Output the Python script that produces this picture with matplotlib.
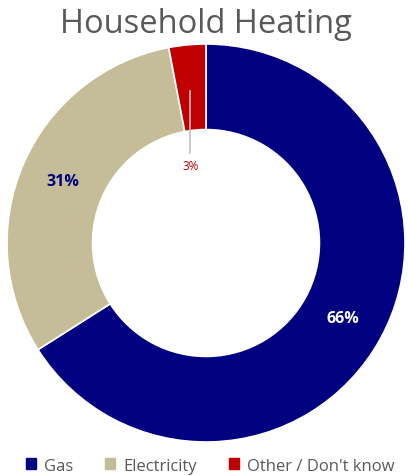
import numpy as np
import matplotlib.pyplot as plt

plt.rcParams['font.family'] = ['Open Sans', 'DejaVu Sans']

categories = ['Gas', 'Electricity', "Other / Don't know"]
shares = [66, 31, 3]
colors = ['#000080', '#C4BD97', '#C00000']

fig = plt.figure(figsize=(4.08, 4.77), dpi=100)
ax = fig.add_axes([7 / 408, 34 / 477, 398 / 408, 398 / 477])

wedges, _ = ax.pie(shares, colors=colors, startangle=90, counterclock=False,
                   radius=1.0, wedgeprops=dict(width=0.43, edgecolor='white', linewidth=1.2))
ax.set_xlim(-1, 1)
ax.set_ylim(-1, 1)

mid_r = 1 - 0.43 / 2
label_style = [
    dict(color='white', fontweight='bold', fontsize=11.5),
    dict(color='#000080', fontweight='bold', fontsize=11.5),
    dict(color='#C00000', fontsize=8.5),
]
for w, val, st in zip(wedges, shares, label_style):
    ang = np.deg2rad((w.theta1 + w.theta2) / 2)
    x, y = mid_r * np.cos(ang), mid_r * np.sin(ang)
    if val < 5:
        # small slice: label sits inside the hole with a leader line
        tx, ty = x - 0.005, 0.39
        ax.plot([tx, tx], [y - 0.02, ty + 0.06], color='#BFBFBF', lw=1.2)
        ax.text(tx, ty, f'{val}%', ha='center', va='center', **st)
    else:
        ax.text(x, y, f'{val}%', ha='center', va='center', **st)

fig.text(0.505, 0.948, 'Household Heating', ha='center', va='center',
         fontsize=23.5, color='#595959')

handles = [plt.Rectangle((0, 0), 1, 1, color=c) for c in colors]
fig.legend(handles, categories, loc='center', bbox_to_anchor=(0.515, 0.022),
           ncol=3, frameon=False, fontsize=12, labelcolor='#595959',
           handlelength=0.6, handleheight=0.6, handletextpad=0.5, columnspacing=1.9)

fig.savefig('out.png', dpi=100)
